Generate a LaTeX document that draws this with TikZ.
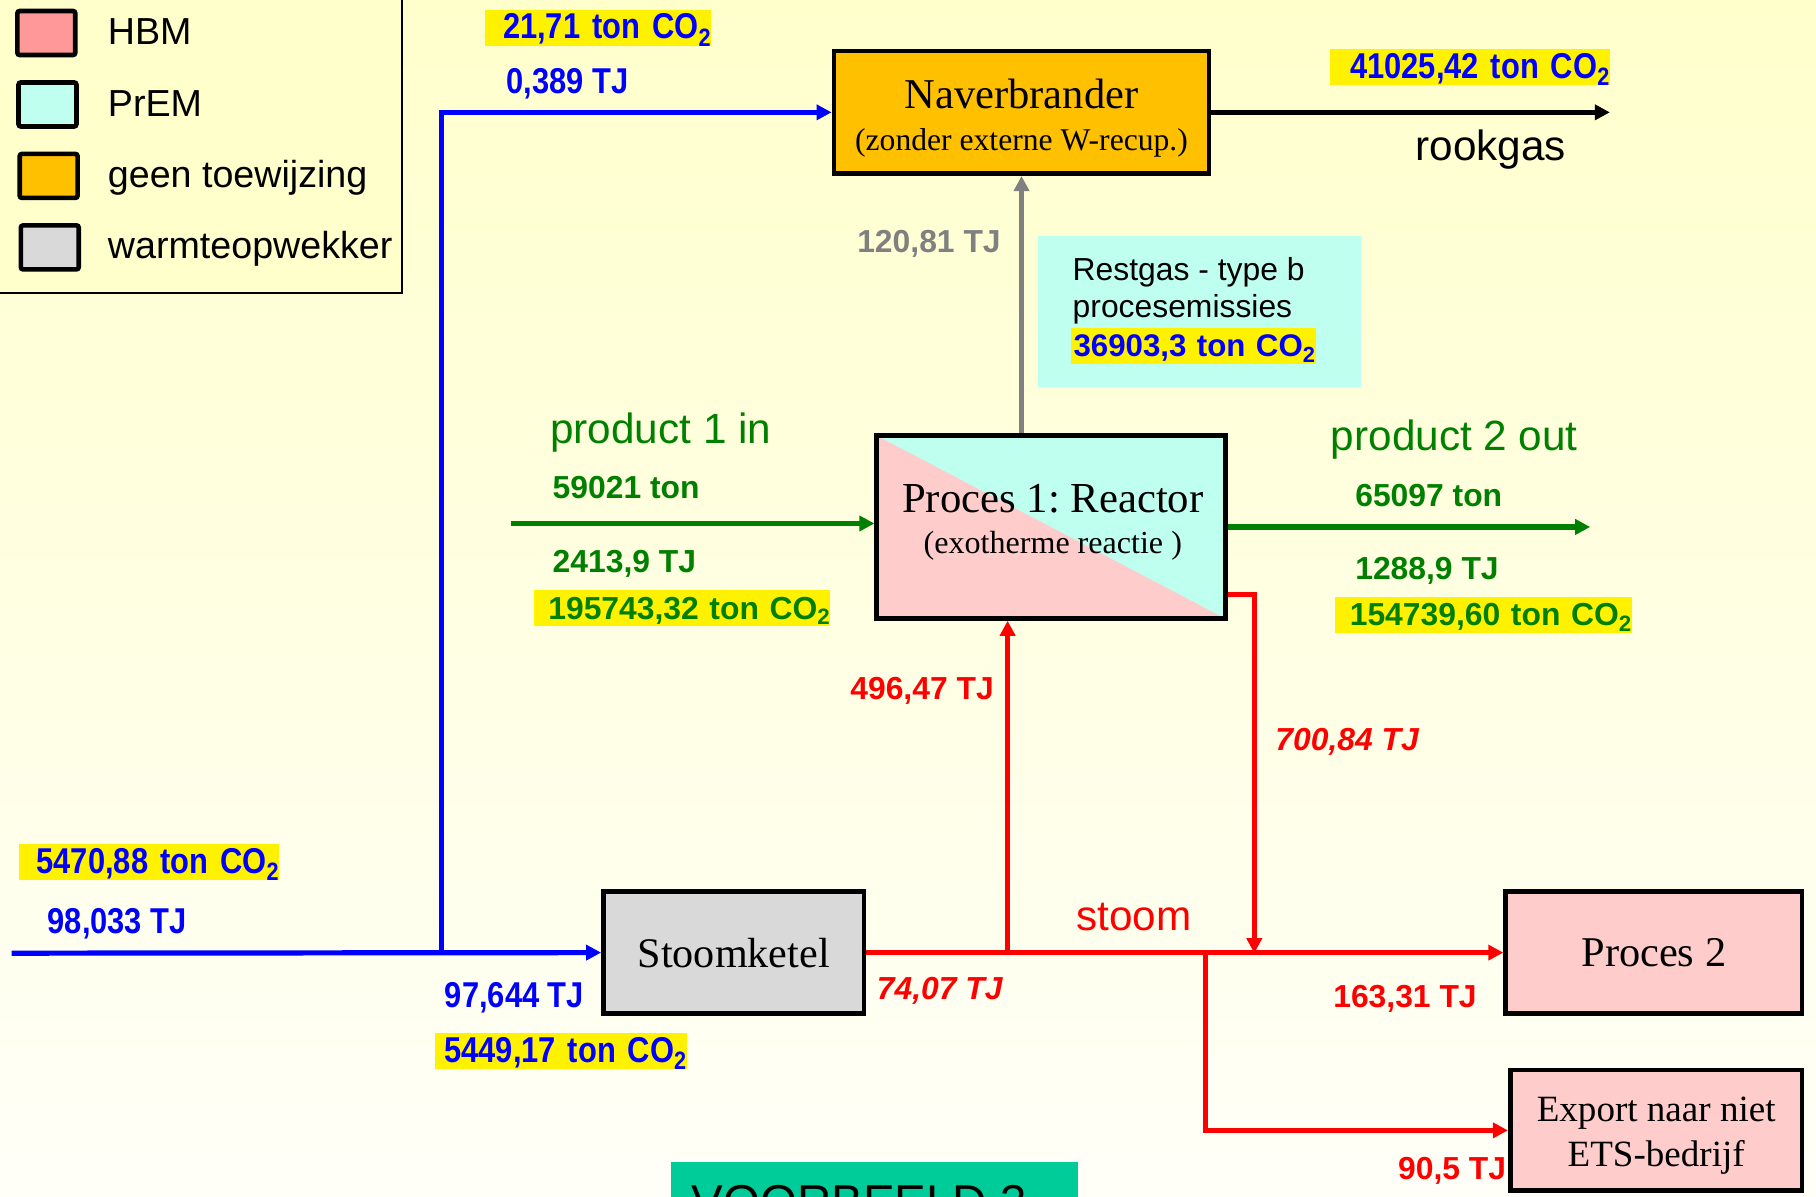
\documentclass[tikz,border=0pt]{standalone}
\usepackage{fontspec}
\setmainfont{Liberation Serif}
\setsansfont{Liberation Sans}
\newfontfamily\narrowsans[FakeStretch=0.86]{Liberation Sans}
\usetikzlibrary{positioning, calc, arrows.meta}
\frenchspacing

\definecolor{hbmred}{HTML}{FF9999}
\definecolor{hbmpink}{HTML}{FFCCCC}
\definecolor{premcyan}{HTML}{BFFFEF}
\definecolor{geenorange}{HTML}{FFC000}
\definecolor{ketelgray}{HTML}{D9D9D9}
\definecolor{flowblue}{HTML}{0000FF}
\definecolor{flowgreen}{HTML}{008000}
\definecolor{flowred}{HTML}{FF0000}
\definecolor{flowgray}{HTML}{808080}
\definecolor{bgtop}{HTML}{FFFFCC}
\definecolor{bgbottom}{HTML}{FFFFF8}
\definecolor{voorbeeldgreen}{HTML}{00CC99}

\newcommand{\legfont}{\sffamily\fontsize{32.5}{36}\selectfont}
\newcommand{\bigsans}{\sffamily\fontsize{36.5}{40}\selectfont}
\newcommand{\valfont}{\sffamily\bfseries\fontsize{27.5}{31}\selectfont}
\newcommand{\bluefont}{\narrowsans\bfseries\fontsize{31}{33}\selectfont}
\newcommand{\COtwo}{CO\textsubscript{2}}

\tikzset{
  procbox/.style={draw, line width=4pt, inner sep=0pt, align=center},
  legswatch/.style={draw, line width=4pt, rounded corners=2pt, minimum width=50pt, minimum height=38pt, inner sep=0pt},
  flow/.style={line width=4.5pt, -{Triangle[length=13pt,width=13pt]}},
  hl/.style={fill=yellow, inner sep=0pt, text height=23pt, text depth=4pt, minimum height=31pt, text width=#1, align=right},
  lbl/.style={anchor=base west, inner sep=0pt},
}

\begin{document}
\begin{tikzpicture}[x=1pt, y=-1pt]

    \useasboundingbox (0,0) rectangle (1568,1033);
    \clip (0,0) rectangle (1568,1033);
    \shade[top color=bgtop, bottom color=bgbottom] (0,0) rectangle (1568,1033);

    % legenda
    \draw[line width=2pt, fill=bgtop] (-10,-10) rectangle (347,253);
    \foreach \key/\col/\txt [count=\i] in {hbm/hbmred/HBM, prem/premcyan/PrEM, geen/geenorange/geen toewijzing, warmte/ketelgray/warmteopwekker}{
        \node[legswatch, fill=\col] (leg\key) at (39+\i, -33.2+61.7*\i) {};
        \node[lbl, font=\legfont] (leg\key text) at (93, -23.2+61.7*\i) {\txt};
    }

    % installaties
    \node[procbox, fill=geenorange, minimum width=324pt, minimum height=106pt] (naver) at (882,97) {};
    \node[align=center, inner sep=0pt, font=\fontsize{36.7}{36.5}\selectfont] (navertext) at (882,102.3) {Naverbrander\\{\fontsize{27.3}{30}\selectfont (zonder externe W-recup.)}};

    \node[procbox, fill=hbmpink, minimum width=301pt, minimum height=158pt,
        path picture={\fill[premcyan] (path picture bounding box.north west) -- (path picture bounding box.north east) -- (path picture bounding box.south east) -- cycle;}] (reactor) at (907.5,455) {};
    \node[align=center, inner sep=0pt, font=\fontsize{36.9}{36}\selectfont] (reactortext) at (909,451) {Proces 1: Reactor\\{\fontsize{27.7}{30}\selectfont (exotherme reactie )}};

    \node[procbox, fill=ketelgray, minimum width=225pt, minimum height=105pt, font=\fontsize{36.4}{40}\selectfont] (ketel) at (633.5,822.5) {Stoomketel};
    \node[procbox, fill=hbmpink, minimum width=256pt, minimum height=105pt, font=\fontsize{36.6}{40}\selectfont] (proces2) at (1428,822.5) {Proces 2};
    \node[procbox, fill=hbmpink, minimum width=252pt, minimum height=104pt] (export) at (1430,976) {};
    \node[align=center, inner sep=0pt, font=\fontsize{32}{39.5}\selectfont] (exporttext) at (1430,980.5) {Export naar niet\\ETS-bedrijf};

    \node[fill=premcyan, minimum width=279pt, minimum height=130pt, inner sep=0pt] (restgas) at (1035.5,269) {};
    \node[lbl, font=\sffamily\fontsize{27.5}{32}\selectfont] (restgasline1) at (926,242) {Restgas - type b};
    \node[lbl, font=\sffamily\fontsize{27.5}{32}\selectfont] (restgasline2) at (926,274) {procesemissies};
    \node[hl=211pt, font=\sffamily\bfseries\fontsize{27}{31}\selectfont, text=flowblue] (restgasco2) at (1030.5,298.5) {\mbox{36903,3 ton \COtwo}};

    % brandstof (blauw)
    \coordinate (fuelin) at (10,823);
    \coordinate (fuelsplit) at (381,823);
    \draw[flow, flowblue] (fuelin) -- (ketel.west);
    \draw[flow, flowblue] (fuelsplit) |- (naver.west);
    \node[hl=225pt, font=\bluefont, text=flowblue] (fuelco2) at (128.5,744.5) {5470,88 ton \COtwo};
    \node[lbl, font=\bluefont, text=flowblue] (fuelTJ) at (41,806) {98,033 TJ};
    \node[lbl, font=\bluefont, text=flowblue] (ketelTJ) at (384,870) {97,644 TJ};
    \node[hl=217pt, font=\bluefont, text=flowblue] (ketelco2) at (484.5,907.5) {5449,17 ton \COtwo};
    \node[hl=195pt, font=\bluefont, text=flowblue] (naverco2) at (516.5,24) {21,71 ton \COtwo};
    \node[lbl, font=\bluefont, text=flowblue] (naverTJ) at (437,81) {0,389 TJ};

    % rookgas
    \coordinate (rookgasend) at (1390,97);
    \draw[flow, black] (naver.east) -- (rookgasend);
    \node[hl=242pt, font=\bluefont, text=flowblue] (rookgasco2) at (1269,58) {41025,42 ton \COtwo};
    \node[lbl, font=\bigsans] (rookgaslabel) at (1222,139) {rookgas};

    % restgas (grijs)
    \draw[flow, flowgray, line width=3.5pt] (reactor.north -| naver.south) -- (naver.south);
    \node[lbl, font=\valfont, text=flowgray] (restgasTJ) at (740,218) {120,81 TJ};

    % producten (groen)
    \coordinate (p1start) at (441,452);
    \draw[flow, flowgreen] (p1start) -- (p1start -| reactor.west);
    \node[lbl, font=\bigsans, text=flowgreen] (p1label) at (475,383) {product 1 in};
    \node[lbl, font=\valfont, text=flowgreen] (p1ton) at (477,430) {59021 ton};
    \node[lbl, font=\valfont, text=flowgreen] (p1TJ) at (477,494) {2413,9 TJ};
    \node[hl=256pt, font=\valfont, text=flowgreen] (p1co2) at (589,525) {195743,32 ton \COtwo};

    \coordinate (p2end) at (1373,455);
    \draw[flow, flowgreen] (reactor.east) -- (p2end);
    \node[lbl, font=\bigsans, text=flowgreen] (p2label) at (1149,389) {product 2 out};
    \node[lbl, font=\valfont, text=flowgreen] (p2ton) at (1170,437) {65097 ton};
    \node[lbl, font=\valfont, text=flowgreen] (p2TJ) at (1170,500) {1288,9 TJ};
    \node[hl=256pt, font=\valfont, text=flowgreen] (p2co2) at (1281,531) {154739,60 ton \COtwo};

    % stoom (rood)
    \coordinate (toreactor) at (870,823);
    \coordinate (retour) at (1083,823);
    \coordinate (toexport) at (1041,823);
    \draw[flow, flowred] (ketel.east) -- (proces2.west);
    \draw[flow, flowred] (toreactor) -- (toreactor |- reactor.south);
    \draw[flow, flowred] ([yshift=23pt]reactor.south east) -| (retour);
    \draw[flow, flowred] (toexport) |- (export.west);
    \node[lbl, font=\bigsans, text=flowred] (stoomlabel) at (929,803) {stoom};
    \node[lbl, font=\valfont, text=flowred] (reactorinTJ) at (734,604) {496,47 TJ};
    \node[lbl, font=\valfont\itshape, text=flowred] (retourTJ) at (1101,648) {700,84 TJ};
    \node[lbl, font=\valfont\itshape, text=flowred] (ketelstoomTJ) at (757,863) {74,07 TJ};
    \node[lbl, font=\valfont, text=flowred] (proces2TJ) at (1151,870) {163,31 TJ};
    \node[lbl, font=\valfont, text=flowred] (exportTJ) at (1207,1018) {90,5 TJ};

    % voorbeeld
    \node[fill=voorbeeldgreen, anchor=north west, minimum width=352pt, minimum height=80pt, inner sep=0pt] (voorbeeld) at (579,1003) {};
    \node[lbl, font=\sffamily\fontsize{41}{44}\selectfont] (voorbeeldtext) at (597,1052) {VOORBEELD 3};

\end{tikzpicture}
\end{document}
